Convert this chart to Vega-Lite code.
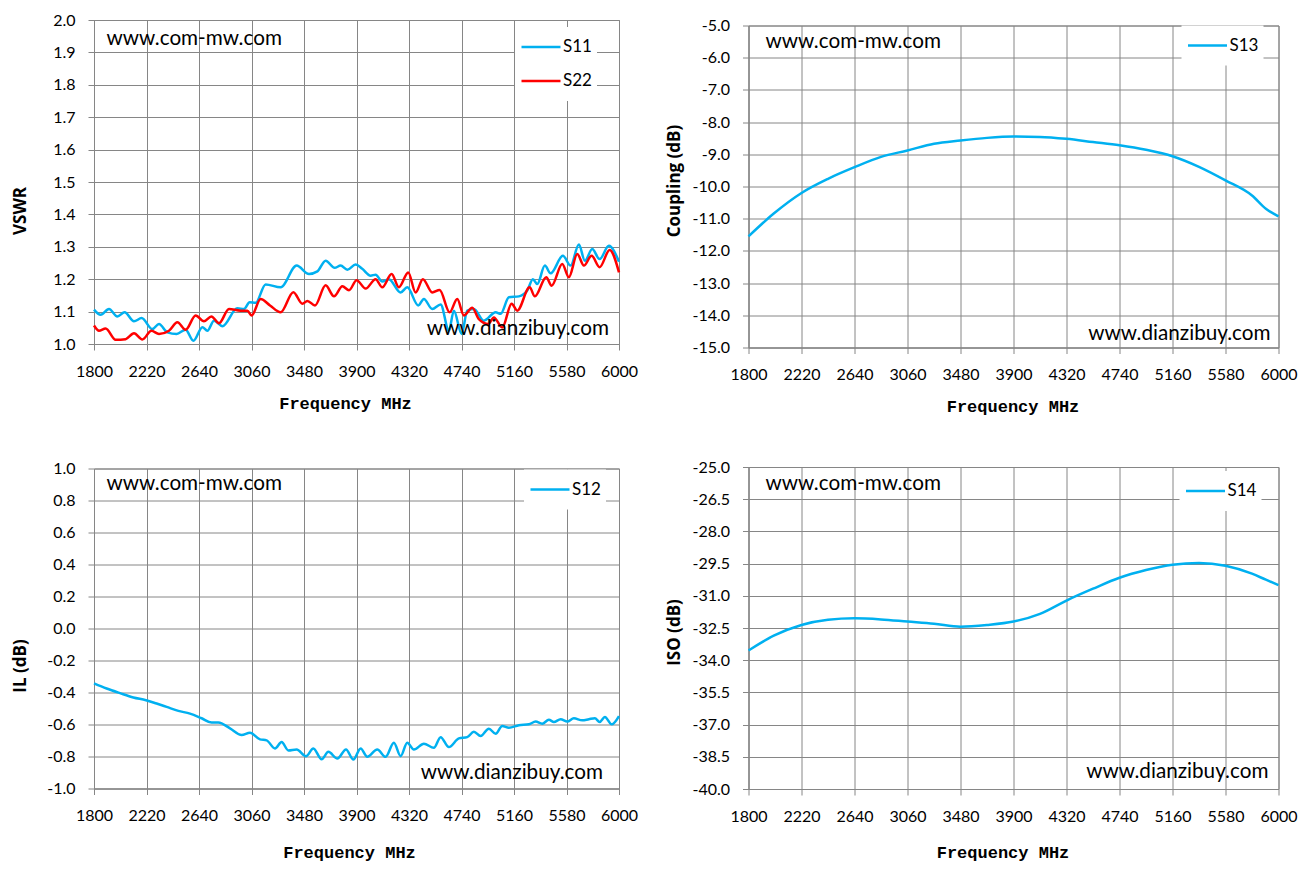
{
  "$schema": "https://vega.github.io/schema/vega-lite/v6.json",
  "padding": {"left": 10, "top": 11, "right": 5, "bottom": 5},
  "background": "white",
  "config": {
    "font": "Lato",
    "view": {"stroke": "#868686", "strokeWidth": 1},
    "axis": {
      "gridColor": "#868686", "gridOpacity": 1, "gridWidth": 1,
      "domainColor": "#868686", "tickColor": "#868686", "tickSize": 6,
      "labelFont": "Lato", "labelFontSize": 16, "labelColor": "#000000",
      "titleColor": "#000000", "labelOverlap": false
    },
    "axisX": {
      "labelFlush": false, "labelPadding": 13, "tickCount": 12,
      "titleFont": "Liberation Mono", "titleFontSize": 17, "titleFontWeight": "bold", "titlePadding": 16
    },
    "axisY": {
      "labelPadding": 13, "tickCount": 12, "titleFont": "Open Sans", "titleFontSize": 17, "titleFontWeight": "bold",
      "titleX": -74, "titleBaseline": "middle"
    },
    "legend": {
      "title": null, "orient": "none", "symbolType": "stroke", "symbolSize": 1521,
      "symbolStrokeWidth": 2.5, "labelFont": "Lato", "labelFontSize": 17, "labelColor": "#000000",
      "labelOffset": 1, "fillColor": "white", "padding": 5, "clipHeight": 30, "rowPadding": 4
    },
    "line": {"strokeWidth": 2.5, "interpolate": "monotone"},
    "text": {"font": "Lato", "fontSize": 20.7, "baseline": "middle", "color": "#000000"}
  },
  "datasets": {
    "vswr": [
      {"f": 1800, "v": 1.106, "s": "S11"}, {"f": 1853, "v": 1.09, "s": "S11"}, {"f": 1920, "v": 1.108, "s": "S11"},
      {"f": 1987, "v": 1.085, "s": "S11"}, {"f": 2045, "v": 1.098, "s": "S11"}, {"f": 2120, "v": 1.07, "s": "S11"},
      {"f": 2181, "v": 1.08, "s": "S11"}, {"f": 2267, "v": 1.046, "s": "S11"}, {"f": 2320, "v": 1.062, "s": "S11"},
      {"f": 2387, "v": 1.036, "s": "S11"}, {"f": 2461, "v": 1.031, "s": "S11"}, {"f": 2533, "v": 1.044, "s": "S11"},
      {"f": 2595, "v": 1.01, "s": "S11"}, {"f": 2667, "v": 1.052, "s": "S11"}, {"f": 2707, "v": 1.041, "s": "S11"},
      {"f": 2760, "v": 1.072, "s": "S11"}, {"f": 2827, "v": 1.055, "s": "S11"}, {"f": 2947, "v": 1.11, "s": "S11"},
      {"f": 3000, "v": 1.108, "s": "S11"}, {"f": 3045, "v": 1.129, "s": "S11"}, {"f": 3093, "v": 1.127, "s": "S11"},
      {"f": 3173, "v": 1.184, "s": "S11"}, {"f": 3293, "v": 1.175, "s": "S11"}, {"f": 3421, "v": 1.242, "s": "S11"},
      {"f": 3520, "v": 1.216, "s": "S11"}, {"f": 3587, "v": 1.224, "s": "S11"}, {"f": 3653, "v": 1.257, "s": "S11"},
      {"f": 3725, "v": 1.235, "s": "S11"}, {"f": 3773, "v": 1.242, "s": "S11"}, {"f": 3827, "v": 1.229, "s": "S11"},
      {"f": 3893, "v": 1.245, "s": "S11"}, {"f": 3946, "v": 1.232, "s": "S11"}, {"f": 4013, "v": 1.211, "s": "S11"},
      {"f": 4053, "v": 1.214, "s": "S11"}, {"f": 4106, "v": 1.193, "s": "S11"}, {"f": 4159, "v": 1.2, "s": "S11"},
      {"f": 4253, "v": 1.159, "s": "S11"}, {"f": 4306, "v": 1.175, "s": "S11"}, {"f": 4394, "v": 1.119, "s": "S11"},
      {"f": 4439, "v": 1.139, "s": "S11"}, {"f": 4506, "v": 1.108, "s": "S11"}, {"f": 4573, "v": 1.122, "s": "S11"},
      {"f": 4639, "v": 1.041, "s": "S11"}, {"f": 4679, "v": 1.103, "s": "S11"}, {"f": 4741, "v": 1.031, "s": "S11"},
      {"f": 4786, "v": 1.103, "s": "S11"}, {"f": 4839, "v": 1.108, "s": "S11"}, {"f": 4919, "v": 1.072, "s": "S11"},
      {"f": 5013, "v": 1.098, "s": "S11"}, {"f": 5053, "v": 1.093, "s": "S11"}, {"f": 5119, "v": 1.144, "s": "S11"},
      {"f": 5199, "v": 1.147, "s": "S11"}, {"f": 5266, "v": 1.165, "s": "S11"}, {"f": 5311, "v": 1.2, "s": "S11"},
      {"f": 5346, "v": 1.185, "s": "S11"}, {"f": 5407, "v": 1.242, "s": "S11"}, {"f": 5453, "v": 1.218, "s": "S11"},
      {"f": 5551, "v": 1.272, "s": "S11"}, {"f": 5613, "v": 1.242, "s": "S11"}, {"f": 5679, "v": 1.307, "s": "S11"},
      {"f": 5727, "v": 1.257, "s": "S11"}, {"f": 5786, "v": 1.293, "s": "S11"}, {"f": 5845, "v": 1.262, "s": "S11"},
      {"f": 5919, "v": 1.303, "s": "S11"}, {"f": 6000, "v": 1.254, "s": "S11"},
      {"f": 1800, "v": 1.057, "s": "S22"}, {"f": 1840, "v": 1.041, "s": "S22"}, {"f": 1893, "v": 1.048, "s": "S22"},
      {"f": 1973, "v": 1.013, "s": "S22"}, {"f": 2053, "v": 1.015, "s": "S22"}, {"f": 2120, "v": 1.033, "s": "S22"},
      {"f": 2187, "v": 1.014, "s": "S22"}, {"f": 2259, "v": 1.041, "s": "S22"}, {"f": 2320, "v": 1.031, "s": "S22"},
      {"f": 2400, "v": 1.041, "s": "S22"}, {"f": 2467, "v": 1.067, "s": "S22"}, {"f": 2533, "v": 1.044, "s": "S22"},
      {"f": 2613, "v": 1.088, "s": "S22"}, {"f": 2680, "v": 1.07, "s": "S22"}, {"f": 2739, "v": 1.085, "s": "S22"},
      {"f": 2800, "v": 1.064, "s": "S22"}, {"f": 2880, "v": 1.108, "s": "S22"}, {"f": 2973, "v": 1.103, "s": "S22"},
      {"f": 3027, "v": 1.103, "s": "S22"}, {"f": 3061, "v": 1.088, "s": "S22"}, {"f": 3133, "v": 1.139, "s": "S22"},
      {"f": 3208, "v": 1.119, "s": "S22"}, {"f": 3293, "v": 1.098, "s": "S22"}, {"f": 3395, "v": 1.16, "s": "S22"},
      {"f": 3467, "v": 1.124, "s": "S22"}, {"f": 3507, "v": 1.133, "s": "S22"}, {"f": 3568, "v": 1.119, "s": "S22"},
      {"f": 3653, "v": 1.181, "s": "S22"}, {"f": 3720, "v": 1.147, "s": "S22"}, {"f": 3787, "v": 1.178, "s": "S22"},
      {"f": 3840, "v": 1.166, "s": "S22"}, {"f": 3901, "v": 1.197, "s": "S22"}, {"f": 3973, "v": 1.171, "s": "S22"},
      {"f": 4053, "v": 1.2, "s": "S22"}, {"f": 4106, "v": 1.175, "s": "S22"}, {"f": 4181, "v": 1.216, "s": "S22"},
      {"f": 4239, "v": 1.175, "s": "S22"}, {"f": 4314, "v": 1.221, "s": "S22"}, {"f": 4373, "v": 1.159, "s": "S22"},
      {"f": 4431, "v": 1.2, "s": "S22"}, {"f": 4506, "v": 1.159, "s": "S22"}, {"f": 4565, "v": 1.167, "s": "S22"},
      {"f": 4645, "v": 1.098, "s": "S22"}, {"f": 4706, "v": 1.139, "s": "S22"}, {"f": 4759, "v": 1.088, "s": "S22"},
      {"f": 4826, "v": 1.112, "s": "S22"}, {"f": 4879, "v": 1.077, "s": "S22"}, {"f": 4954, "v": 1.062, "s": "S22"},
      {"f": 4999, "v": 1.082, "s": "S22"}, {"f": 5066, "v": 1.051, "s": "S22"}, {"f": 5141, "v": 1.124, "s": "S22"},
      {"f": 5186, "v": 1.103, "s": "S22"}, {"f": 5285, "v": 1.175, "s": "S22"}, {"f": 5327, "v": 1.147, "s": "S22"},
      {"f": 5418, "v": 1.206, "s": "S22"}, {"f": 5461, "v": 1.18, "s": "S22"}, {"f": 5546, "v": 1.247, "s": "S22"},
      {"f": 5599, "v": 1.206, "s": "S22"}, {"f": 5666, "v": 1.278, "s": "S22"}, {"f": 5719, "v": 1.242, "s": "S22"},
      {"f": 5781, "v": 1.272, "s": "S22"}, {"f": 5845, "v": 1.237, "s": "S22"}, {"f": 5925, "v": 1.29, "s": "S22"},
      {"f": 6000, "v": 1.221, "s": "S22"}
    ],
    "s13": [
      {"f": 1800, "v": -11.55, "s": "S13"}, {"f": 2000, "v": -10.84, "s": "S13"}, {"f": 2220, "v": -10.2, "s": "S13"},
      {"f": 2430, "v": -9.76, "s": "S13"}, {"f": 2640, "v": -9.4, "s": "S13"}, {"f": 2850, "v": -9.08, "s": "S13"},
      {"f": 3060, "v": -8.88, "s": "S13"}, {"f": 3270, "v": -8.67, "s": "S13"}, {"f": 3480, "v": -8.57, "s": "S13"},
      {"f": 3690, "v": -8.49, "s": "S13"}, {"f": 3900, "v": -8.45, "s": "S13"}, {"f": 4110, "v": -8.46, "s": "S13"},
      {"f": 4320, "v": -8.52, "s": "S13"}, {"f": 4530, "v": -8.62, "s": "S13"}, {"f": 4740, "v": -8.72, "s": "S13"},
      {"f": 4950, "v": -8.86, "s": "S13"}, {"f": 5160, "v": -9.06, "s": "S13"}, {"f": 5370, "v": -9.39, "s": "S13"},
      {"f": 5580, "v": -9.81, "s": "S13"}, {"f": 5790, "v": -10.28, "s": "S13"}, {"f": 5900, "v": -10.69, "s": "S13"},
      {"f": 6000, "v": -10.93, "s": "S13"}
    ],
    "s12": [
      {"f": 1800, "v": -0.343, "s": "S12"}, {"f": 1901, "v": -0.375, "s": "S12"}, {"f": 2008, "v": -0.404, "s": "S12"},
      {"f": 2115, "v": -0.431, "s": "S12"}, {"f": 2216, "v": -0.448, "s": "S12"}, {"f": 2301, "v": -0.469, "s": "S12"},
      {"f": 2381, "v": -0.49, "s": "S12"}, {"f": 2475, "v": -0.515, "s": "S12"}, {"f": 2568, "v": -0.532, "s": "S12"},
      {"f": 2661, "v": -0.561, "s": "S12"}, {"f": 2741, "v": -0.588, "s": "S12"}, {"f": 2795, "v": -0.588, "s": "S12"},
      {"f": 2888, "v": -0.624, "s": "S12"}, {"f": 2981, "v": -0.666, "s": "S12"}, {"f": 3048, "v": -0.651, "s": "S12"},
      {"f": 3128, "v": -0.693, "s": "S12"}, {"f": 3181, "v": -0.699, "s": "S12"}, {"f": 3248, "v": -0.75, "s": "S12"},
      {"f": 3301, "v": -0.71, "s": "S12"}, {"f": 3355, "v": -0.762, "s": "S12"}, {"f": 3421, "v": -0.756, "s": "S12"},
      {"f": 3496, "v": -0.798, "s": "S12"}, {"f": 3555, "v": -0.75, "s": "S12"}, {"f": 3621, "v": -0.817, "s": "S12"},
      {"f": 3675, "v": -0.771, "s": "S12"}, {"f": 3747, "v": -0.813, "s": "S12"}, {"f": 3816, "v": -0.756, "s": "S12"},
      {"f": 3875, "v": -0.819, "s": "S12"}, {"f": 3933, "v": -0.75, "s": "S12"}, {"f": 3986, "v": -0.802, "s": "S12"},
      {"f": 4066, "v": -0.756, "s": "S12"}, {"f": 4133, "v": -0.802, "s": "S12"}, {"f": 4199, "v": -0.714, "s": "S12"},
      {"f": 4253, "v": -0.798, "s": "S12"}, {"f": 4306, "v": -0.714, "s": "S12"}, {"f": 4359, "v": -0.756, "s": "S12"},
      {"f": 4439, "v": -0.72, "s": "S12"}, {"f": 4519, "v": -0.746, "s": "S12"}, {"f": 4573, "v": -0.679, "s": "S12"},
      {"f": 4639, "v": -0.741, "s": "S12"}, {"f": 4719, "v": -0.687, "s": "S12"}, {"f": 4786, "v": -0.679, "s": "S12"},
      {"f": 4839, "v": -0.645, "s": "S12"}, {"f": 4893, "v": -0.672, "s": "S12"}, {"f": 4959, "v": -0.626, "s": "S12"},
      {"f": 5013, "v": -0.658, "s": "S12"}, {"f": 5066, "v": -0.609, "s": "S12"}, {"f": 5119, "v": -0.62, "s": "S12"},
      {"f": 5199, "v": -0.605, "s": "S12"}, {"f": 5279, "v": -0.599, "s": "S12"}, {"f": 5333, "v": -0.582, "s": "S12"},
      {"f": 5386, "v": -0.595, "s": "S12"}, {"f": 5439, "v": -0.571, "s": "S12"}, {"f": 5479, "v": -0.584, "s": "S12"},
      {"f": 5533, "v": -0.567, "s": "S12"}, {"f": 5586, "v": -0.582, "s": "S12"}, {"f": 5639, "v": -0.561, "s": "S12"},
      {"f": 5706, "v": -0.574, "s": "S12"}, {"f": 5759, "v": -0.567, "s": "S12"}, {"f": 5807, "v": -0.561, "s": "S12"},
      {"f": 5845, "v": -0.584, "s": "S12"}, {"f": 5887, "v": -0.553, "s": "S12"}, {"f": 5941, "v": -0.599, "s": "S12"},
      {"f": 6000, "v": -0.547, "s": "S12"}
    ],
    "s14": [
      {"f": 1800, "v": -33.55, "s": "S14"}, {"f": 2000, "v": -32.86, "s": "S14"}, {"f": 2220, "v": -32.36, "s": "S14"},
      {"f": 2430, "v": -32.12, "s": "S14"}, {"f": 2640, "v": -32.05, "s": "S14"}, {"f": 2850, "v": -32.1, "s": "S14"},
      {"f": 3060, "v": -32.2, "s": "S14"}, {"f": 3270, "v": -32.3, "s": "S14"}, {"f": 3480, "v": -32.44, "s": "S14"},
      {"f": 3690, "v": -32.36, "s": "S14"}, {"f": 3900, "v": -32.2, "s": "S14"}, {"f": 4110, "v": -31.84, "s": "S14"},
      {"f": 4320, "v": -31.22, "s": "S14"}, {"f": 4530, "v": -30.67, "s": "S14"}, {"f": 4740, "v": -30.16, "s": "S14"},
      {"f": 4950, "v": -29.8, "s": "S14"}, {"f": 5160, "v": -29.55, "s": "S14"}, {"f": 5370, "v": -29.47, "s": "S14"},
      {"f": 5580, "v": -29.6, "s": "S14"}, {"f": 5790, "v": -29.97, "s": "S14"}, {"f": 5900, "v": -30.25, "s": "S14"},
      {"f": 6000, "v": -30.5, "s": "S14"}
    ]
  },
  "spacing": 25.5,
  "resolve": {"scale": {"color": "independent", "x": "independent", "y": "independent"}, "legend": {"color": "independent"}},
  "hconcat": [
    {
      "spacing": 47.5,
      "resolve": {"scale": {"color": "independent", "x": "independent", "y": "independent"}, "legend": {"color": "independent"}},
      "vconcat": [
        {
          "width": 525, "height": 324,
          "layer": [
            {
              "data": {"name": "vswr"},
              "mark": "line",
              "encoding": {
                "x": {"field": "f", "type": "quantitative", "scale": {"domain": [1800, 6000], "nice": false, "zero": false},
                  "axis": {"values": [1800, 2220, 2640, 3060, 3480, 3900, 4320, 4740, 5160, 5580, 6000], "format": "d", "title": "Frequency MHz", "titleX": 251}},
                "y": {"field": "v", "type": "quantitative", "scale": {"domain": [1, 2], "nice": false, "zero": false},
                  "axis": {"values": [1, 1.1, 1.2, 1.3, 1.4, 1.5, 1.6, 1.7, 1.8, 1.9, 2], "labelExpr": "replace(format(datum.value, '.1f'), '\u2212', '-')", "title": "VSWR", "titleY": 190.5}},
                "color": {"field": "s", "type": "nominal", "scale": {"domain": ["S11", "S22"], "range": ["#00B0F0", "#FF0000"]},
                  "legend": {"legendX": 421, "legendY": 7}}
              }
            },
            {
              "data": {"values": [{"label": "www.com-mw.com"}]},
              "mark": {"type": "text", "align": "left"},
              "encoding": {"x": {"datum": 1900, "type": "quantitative"}, "y": {"datum": 1.942, "type": "quantitative"}, "text": {"field": "label"}}
            },
            {
              "data": {"values": [{"label": "www.dianzibuy.com"}]},
              "mark": {"type": "text", "align": "right"},
              "encoding": {"x": {"datum": 5920, "type": "quantitative"}, "y": {"datum": 1.047, "type": "quantitative"}, "text": {"field": "label"}}
            }
          ]
        },
        {
          "width": 525, "height": 320,
          "layer": [
            {
              "data": {"name": "s12"},
              "mark": "line",
              "encoding": {
                "x": {"field": "f", "type": "quantitative", "scale": {"domain": [1800, 6000], "nice": false, "zero": false},
                  "axis": {"values": [1800, 2220, 2640, 3060, 3480, 3900, 4320, 4740, 5160, 5580, 6000], "format": "d", "title": "Frequency MHz", "titleX": 255, "titlePadding": 21}},
                "y": {"field": "v", "type": "quantitative", "scale": {"domain": [-1, 1], "nice": false, "zero": false},
                  "axis": {"values": [-1, -0.8, -0.6, -0.4, -0.2, 0, 0.2, 0.4, 0.6, 0.8, 1], "labelExpr": "replace(format(datum.value, '.1f'), '\u2212', '-')", "title": "IL (dB)", "titleY": 197}},
                "color": {"field": "s", "type": "nominal", "scale": {"domain": ["S12"], "range": ["#00B0F0"]},
                  "legend": {"legendX": 430, "legendY": 1}}
              }
            },
            {
              "data": {"values": [{"label": "www.com-mw.com"}]},
              "mark": {"type": "text", "align": "left"},
              "encoding": {"x": {"datum": 1900, "type": "quantitative"}, "y": {"datum": 0.906, "type": "quantitative"}, "text": {"field": "label"}}
            },
            {
              "data": {"values": [{"label": "www.dianzibuy.com"}]},
              "mark": {"type": "text", "align": "right"},
              "encoding": {"x": {"datum": 5872, "type": "quantitative"}, "y": {"datum": -0.9, "type": "quantitative"}, "text": {"field": "label"}}
            }
          ]
        }
      ]
    },
    {
      "spacing": 43,
      "resolve": {"scale": {"color": "independent", "x": "independent", "y": "independent"}, "legend": {"color": "independent"}},
      "vconcat": [
        {
          "spacing": -4.5,
          "resolve": {"scale": {"color": "independent", "x": "independent", "y": "independent"}, "legend": {"color": "independent"}},
          "vconcat": [
            {
              "width": 530, "height": 1,
              "view": {"stroke": null},
              "data": {"values": []},
              "mark": {"type": "point", "opacity": 0}
            },
            {
              "width": 530, "height": 322,
              "layer": [
                {
                  "data": {"name": "s13"},
                  "mark": "line",
                  "encoding": {
                    "x": {"field": "f", "type": "quantitative", "scale": {"domain": [1800, 6000], "nice": false, "zero": false},
                      "axis": {"values": [1800, 2220, 2640, 3060, 3480, 3900, 4320, 4740, 5160, 5580, 6000], "format": "d", "title": "Frequency MHz", "titleX": 264}},
                    "y": {"field": "v", "type": "quantitative", "scale": {"domain": [-15, -5], "nice": false, "zero": false},
                      "axis": {"values": [-15, -14, -13, -12, -11, -10, -9, -8, -7, -6, -5], "labelExpr": "replace(format(datum.value, '.1f'), '\u2212', '-')", "title": "Coupling (dB)", "titleY": 155}},
                    "color": {"field": "s", "type": "nominal", "scale": {"domain": ["S13"], "range": ["#00B0F0"]},
                      "legend": {"legendX": 433, "legendY": 0}}
                  }
                },
                {
                  "data": {"values": [{"label": "www.com-mw.com"}]},
                  "mark": {"type": "text", "align": "left"},
                  "encoding": {"x": {"datum": 1935, "type": "quantitative"}, "y": {"datum": -5.5, "type": "quantitative"}, "text": {"field": "label"}}
                },
                {
                  "data": {"values": [{"label": "www.dianzibuy.com"}]},
                  "mark": {"type": "text", "align": "right"},
                  "encoding": {"x": {"datum": 5937, "type": "quantitative"}, "y": {"datum": -14.57, "type": "quantitative"}, "text": {"field": "label"}}
                }
              ]
            }
          ]
        },
        {
          "width": 530, "height": 322,
          "layer": [
            {
              "data": {"name": "s14"},
              "mark": "line",
              "encoding": {
                "x": {"field": "f", "type": "quantitative", "scale": {"domain": [1800, 6000], "nice": false, "zero": false},
                  "axis": {"values": [1800, 2220, 2640, 3060, 3480, 3900, 4320, 4740, 5160, 5580, 6000], "format": "d", "title": "Frequency MHz", "titleX": 254, "titlePadding": 20}},
                "y": {"field": "v", "type": "quantitative", "scale": {"domain": [-40, -25], "nice": false, "zero": false},
                  "axis": {"values": [-40, -38.5, -37, -35.5, -34, -32.5, -31, -29.5, -28, -26.5, -25], "labelExpr": "replace(format(datum.value, '.1f'), '\u2212', '-')", "title": "ISO (dB)", "titleY": 165}},
                "color": {"field": "s", "type": "nominal", "scale": {"domain": ["S14"], "range": ["#00B0F0"]},
                  "legend": {"legendX": 431, "legendY": 4}}
              }
            },
            {
              "data": {"values": [{"label": "www.com-mw.com"}]},
              "mark": {"type": "text", "align": "left"},
              "encoding": {"x": {"datum": 1935, "type": "quantitative"}, "y": {"datum": -25.79, "type": "quantitative"}, "text": {"field": "label"}}
            },
            {
              "data": {"values": [{"label": "www.dianzibuy.com"}]},
              "mark": {"type": "text", "align": "right"},
              "encoding": {"x": {"datum": 5920, "type": "quantitative"}, "y": {"datum": -39.2, "type": "quantitative"}, "text": {"field": "label"}}
            }
          ]
        }
      ]
    }
  ]
}
